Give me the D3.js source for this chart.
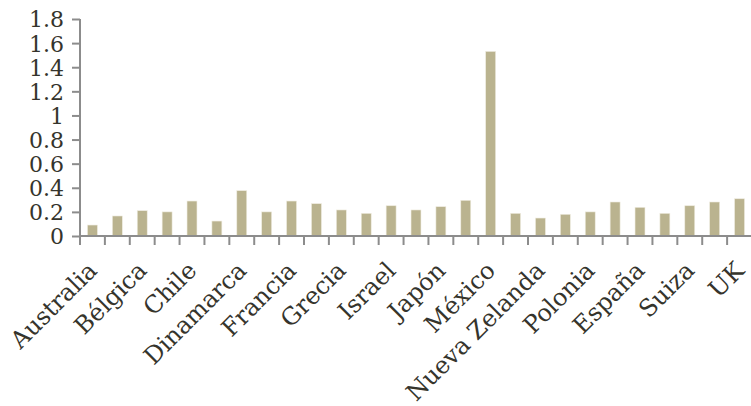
<!DOCTYPE html>
<html><head><meta charset="utf-8">
<script src="https://cdn.jsdelivr.net/npm/d3@7"></script>
<style>html,body{margin:0;padding:0;background:#fff;}</style>
</head><body><svg id="chart" width="751" height="406"></svg>
<script>
const categories = ["Australia","Austria","Bélgica","Canadá","Chile","República Checa","Dinamarca","Finlandia","Francia","Alemania","Grecia","Irlanda","Israel","Italia","Japón","Corea","México","Holanda","Nueva Zelanda","Noruega","Polonia","Portugal","España","Suecia","Suiza","Turquía","UK"];
const values = [0.091,0.166,0.21,0.20,0.29,0.124,0.376,0.20,0.29,0.268,0.216,0.188,0.251,0.216,0.243,0.296,1.531,0.188,0.149,0.18,0.20,0.282,0.238,0.188,0.251,0.282,0.309];
const yTicks = [0,0.2,0.4,0.6,0.8,1,1.2,1.4,1.6,1.8];
const labelEvery = 2;

(function(){
const svg = d3.select("#chart");
const mLeft = 80, mRight = 752, mTop = 19, mBottom = 236;
const x = d3.scaleBand().domain(categories).range([mLeft, mRight]).paddingInner(0.6).paddingOuter(0.3);
const xt = d3.scaleBand().domain(categories).range([mLeft, mRight]);
const y = d3.scaleLinear().domain([0, 1.8]).range([mBottom, mTop]);
const font = "'DejaVu Serif', serif";
const axisColor = "#8c8c8c";
const textColor = "#35342c";

svg.append("g").selectAll("rect").data(categories).join("rect")
  .attr("x", d => x(d)).attr("width", x.bandwidth())
  .attr("y", (d,i) => y(values[i])).attr("height", (d,i) => y(0) - y(values[i]))
  .attr("fill", "#bab38f").attr("stroke", "#efece0").attr("stroke-width", 0.6);

const ya = svg.append("g").attr("transform", `translate(${mLeft},0)`)
  .call(d3.axisLeft(y).tickValues(yTicks).tickFormat(d => String(d)).tickSize(8).tickPadding(8));
ya.select(".domain").attr("stroke", axisColor).attr("stroke-width", 2).attr("d", `M0,${mTop}V${mBottom}`);
ya.selectAll(".tick line").attr("stroke", axisColor).attr("stroke-width", 2);
ya.selectAll(".tick text").attr("font-family", font).attr("font-size", 22).attr("fill", textColor).attr("dy", "0.36em");

const xa = svg.append("g").attr("transform", `translate(0,${mBottom})`);
xa.append("line").attr("x1", mLeft).attr("x2", mRight).attr("stroke", axisColor).attr("stroke-width", 2);
xa.selectAll("line.tk").data(categories.concat(["__end"])).join("line").attr("class","tk")
  .attr("x1", (d,i) => mLeft + i*xt.step()).attr("x2", (d,i) => mLeft + i*xt.step())
  .attr("y1", 0).attr("y2", 9).attr("stroke", axisColor).attr("stroke-width", 2);
xa.selectAll("text").data(categories.filter((d,i) => i % labelEvery === 0)).join("text")
  .attr("transform", d => `translate(${xt(d) + xt.bandwidth()/2 + 6},${36}) rotate(-45)`)
  .attr("text-anchor", "end")
  .attr("font-family", font).attr("font-size", 24).attr("fill", textColor)
  .text(d => d);
})();
</script></body></html>
